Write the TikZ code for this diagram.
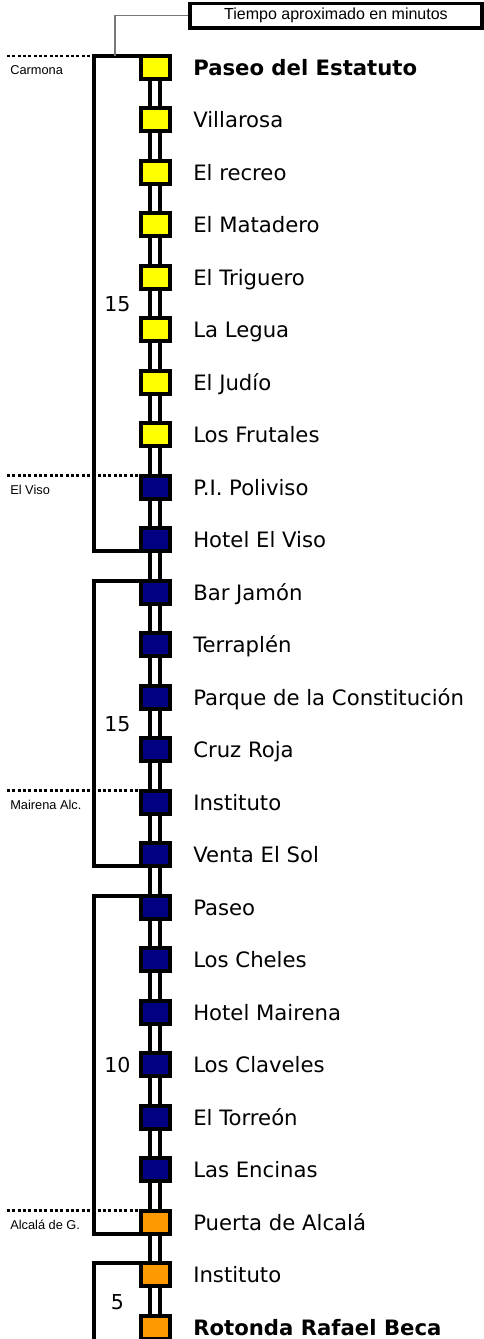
\documentclass[tikz,border=0pt]{standalone}
\usepackage{fontspec}
\setmainfont{DejaVu Sans}
\newfontfamily\smallfont{Liberation Sans}
\usetikzlibrary{positioning,calc}
\definecolor{stYellow}{RGB}{255,255,0}
\definecolor{stNavy}{RGB}{0,0,128}
\definecolor{stOrange}{RGB}{255,153,0}
\definecolor{leadGray}{RGB}{120,120,120}
\tikzset{
    stopbox/.style={rectangle, draw=black, line width=3pt, minimum width=21.75pt,
                    minimum height=17.25pt, inner sep=0pt, outer sep=0pt},
    stoplabel/.style={anchor=base west, inner sep=0pt, font=\fontsize{15.9}{18}\selectfont},
    rail/.style={line width=2.5pt, black},
    bracket/.style={line width=3pt, black},
    town/.style={line width=2.2pt, black, dash pattern=on 2.2pt off 1.8pt},
    townlabel/.style={anchor=base west, inner sep=0pt, font=\smallfont\fontsize{9.6}{11}\selectfont},
    minutes/.style={inner sep=0pt, font=\fontsize{15.4}{18}\selectfont},
    legend/.style={rectangle, draw=black, line width=2.6pt, minimum width=219pt,
                   minimum height=18.4pt, inner sep=0pt, font=\smallfont\fontsize{12}{14}\selectfont},
    lead/.style={line width=0.8pt, leadGray}
}
\begin{document}
\begin{tikzpicture}[x=0.75pt, y=-0.75pt]
  \clip (0,0) rectangle (484,1339);
  % rails under the stops
  \coordinate (top) at (155,67.5);
  \coordinate (bot) at (155,1350);
  \coordinate (brx) at (94,0);
  \coordinate (lx) at (7,0);
  \coordinate (hook) at (115,0);
  \draw[rail] ([xshift=-3.75pt]top) -- ([xshift=-3.75pt]bot);
  \draw[rail] ([xshift=3.75pt]top) -- ([xshift=3.75pt]bot);

  % stops
  \foreach \nm/\col [count=\i from 0] in {
      \textbf{Paseo del Estatuto}/stYellow, Villarosa/stYellow, El recreo/stYellow,
      El Matadero/stYellow, El Triguero/stYellow, La Legua/stYellow, El Judío/stYellow,
      Los Frutales/stYellow, P.I. Poliviso/stNavy, Hotel El Viso/stNavy, Bar Jamón/stNavy,
      Terraplén/stNavy, Parque de la Constitución/stNavy, Cruz Roja/stNavy,
      Instituto/stNavy, Venta El Sol/stNavy, Paseo/stNavy, Los Cheles/stNavy,
      Hotel Mairena/stNavy, Los Claveles/stNavy, El Torreón/stNavy, Las Encinas/stNavy,
      Puerta de Alcalá/stOrange, Instituto/stOrange, \textbf{Rotonda Rafael Beca}/stOrange}{
    \pgfmathsetmacro\yc{67.5+52.48*\i}
    \node[stopbox, fill=\col] (S\i) at (155,\yc) {};
    \node[stoplabel] (T\i) at (193,\yc+8) {\nm};
  }

  % time brackets
  \draw[bracket] (S0.north west) -| (brx |- S9.south west) -- (S9.south west);
  \draw[bracket] (S10.north west) -| (brx |- S15.south west) -- (S15.south west);
  \draw[bracket] (S16.north west) -| (brx |- S22.south west) -- (S22.south west);
  \draw[bracket] (S23.north west) -| (brx |- bot);
  \node[minutes] (M1) at (117.5,304.5) {15};
  \node[minutes] (M2) at (117.5,724.5) {15};
  \node[minutes] (M3) at (117.5,1065.5) {10};
  \node[minutes] (M4) at (117.5,1302) {5};

  % towns
  \draw[town] (lx |- S0.north west) -- (brx |- S0.north west);
  \draw[town] (lx |- S8.north west) -- (S8.north west);
  \draw[town] (lx |- S14.north west) -- (S14.north west);
  \draw[town] (lx |- S22.north west) -- (S22.north west);
  \node[townlabel] (C1) at ($(lx |- S0)+(3,7)$) {Carmona};
  \node[townlabel] (C2) at ($(lx |- S8)+(3,7)$) {El Viso};
  \node[townlabel] (C3) at ($(lx |- S14)+(3,7)$) {Mairena Alc.};
  \node[townlabel] (C4) at ($(lx |- S22)+(3,7)$) {Alcalá de G.};

  % legend
  \node[legend] (leg) at (336,15.75) {Tiempo aproximado en minutos};
  \draw[lead] (leg.west) -| (hook |- S0.north west);
\end{tikzpicture}
\end{document}
